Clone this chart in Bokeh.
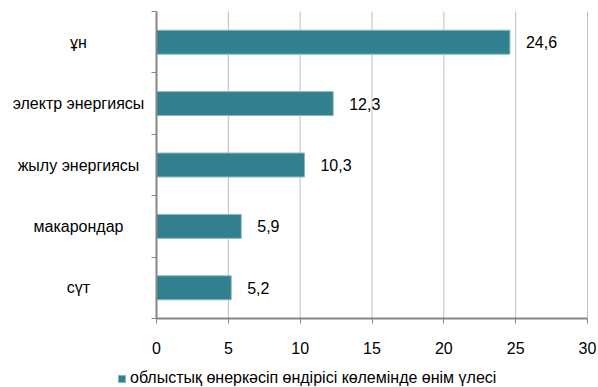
from bokeh.plotting import figure
from bokeh.models import (ColumnDataSource, Range1d, FixedTicker, LinearAxis,
                          LabelSet, Legend, LegendItem)
from bokeh.core.properties import value
from bokeh.embed import file_html
from bokeh.resources import INLINE

categories = ["ұн", "электр энергиясы", "жылу энергиясы", "макарондар", "сүт"]
values = [24.6, 12.3, 10.3, 5.9, 5.2]
x_ticks = [0, 5, 10, 15, 20, 25, 30]
legend_text = "облыстық өнеркәсіп өндірісі көлемінде өнім үлесі"

BAR = "#317F8F"
GRID = "#BFBFBF"
AXIS = "#868686"
FONT = "Liberation Sans"
FS = "16px"

# layout (pixels)
W, H = 598, 387
X0, X30 = 156, 587          # where 0 and 30 sit horizontally
YT, YB = 11, 318            # top and bottom of the category bands
CAT_LABEL_CX = 78           # centre of category labels

n = len(categories)
px = (X30 - X0) / (x_ticks[-1] - x_ticks[0])
band = (YB - YT) / n

src = ColumnDataSource(dict(
    cat=categories,
    val=values,
    pos=[n - i - 0.5 for i in range(n)],   # band centres, first category on top
    lbl=[f"{v:.1f}".replace(".", ",") for v in values],
))

p = figure(width=W, height=H, output_backend="svg", toolbar_location=None,
           x_range=Range1d(-X0 / px, (W - X0) / px),
           y_range=Range1d(-(H - YB) / band, n + YT / band),
           x_axis_location=None, y_axis_location=None,
           min_border=0, min_border_left=0, min_border_right=0,
           min_border_top=0, min_border_bottom=0)
p.outline_line_color = None
p.background_fill_color = "white"
p.border_fill_color = "white"
p.grid.visible = False

# vertical grid lines only across the band area
p.segment(x0=x_ticks, y0=[0] * len(x_ticks), x1=x_ticks, y1=[n] * len(x_ticks),
          line_color=GRID, line_width=1)

r = p.hbar(y="pos", right="val", left=0, height=0.39, source=src,
           fill_color=BAR, line_color="#86B9C4", line_width=1)

# x axis
xa = LinearAxis(fixed_location=0, bounds=(x_ticks[0], x_ticks[-1]),
                ticker=FixedTicker(ticks=x_ticks))
xa.axis_line_color = AXIS
xa.axis_line_width = 2
xa.major_tick_line_color = AXIS
xa.major_tick_out = 5
xa.major_tick_in = 0
xa.minor_tick_out = 0
xa.minor_tick_in = 0
xa.major_label_standoff = 18
xa.major_label_text_font = FONT
xa.major_label_text_font_size = FS
xa.major_label_text_color = "black"
p.add_layout(xa, "below")

# y axis: ticks at category boundaries, no numeric labels
ya = LinearAxis(fixed_location=0, bounds=(0, n),
                ticker=FixedTicker(ticks=[], minor_ticks=list(range(n + 1))))
ya.axis_line_color = AXIS
ya.axis_line_width = 2
ya.major_tick_out = 0
ya.major_tick_in = 0
ya.minor_tick_line_color = AXIS
ya.minor_tick_line_width = 1
ya.minor_tick_out = 5
ya.minor_tick_in = 0
p.add_layout(ya, "left")

# category labels centred in the left margin
cat_labels = LabelSet(x=(CAT_LABEL_CX - X0) / px, y="pos", text="cat", source=src,
                      text_align="center", text_baseline="middle",
                      text_font=value(FONT), text_font_size=value(FS),
                      text_color="black")
p.add_layout(cat_labels)

# value labels
val_labels = LabelSet(x="val", y="pos", text="lbl", source=src, x_offset=16,
                      text_align="left", text_baseline="middle",
                      text_font=value(FONT), text_font_size=value(FS),
                      text_color="black")
p.add_layout(val_labels)

legend = Legend(items=[LegendItem(label=legend_text, renderers=[r])],
                location=(117, 0), orientation="horizontal",
                border_line_color=None, background_fill_alpha=0,
                padding=0, margin=0, spacing=0,
                glyph_width=9, glyph_height=9, label_standoff=4,
                label_text_font=FONT, label_text_font_size=FS,
                label_text_color="black", label_height=17)
p.add_layout(legend)

open("out.html", "w").write(file_html(p, INLINE))
